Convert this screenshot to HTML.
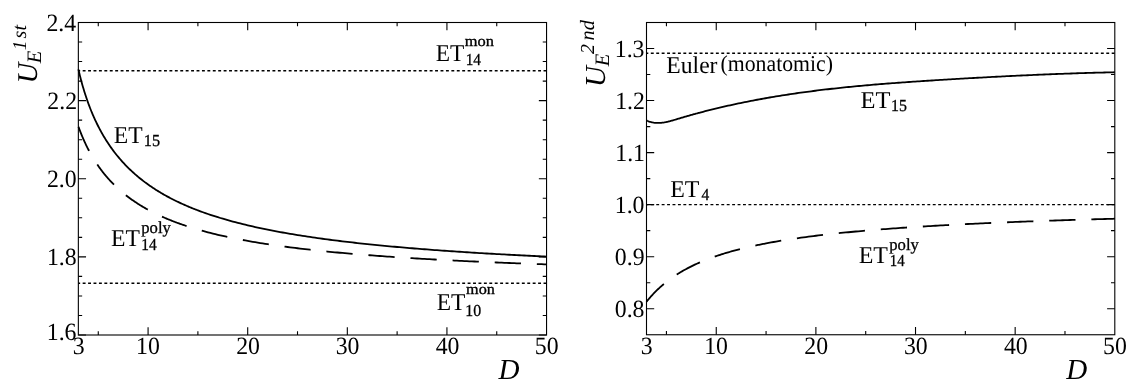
<!DOCTYPE html>
<html><head><meta charset="utf-8"><style>
html,body{margin:0;padding:0;background:#fff;}
svg{display:block;will-change:transform;}
text{font-family:"Liberation Serif",serif;fill:#000;font-kerning:none;text-rendering:geometricPrecision;}
</style></head><body>
<svg width="1135" height="389" viewBox="0 0 1135 389">
<rect width="1135" height="389" fill="#fff"/>
<path d="M148.08,335.00V327.30M148.08,22.50V30.20M247.70,335.00V327.30M247.70,22.50V30.20M347.32,335.00V327.30M347.32,22.50V30.20M446.93,335.00V327.30M446.93,22.50V30.20M98.27,335.00V331.20M98.27,22.50V26.30M197.89,335.00V331.20M197.89,22.50V26.30M297.51,335.00V331.20M297.51,22.50V26.30M397.12,335.00V331.20M397.12,22.50V26.30M496.74,335.00V331.20M496.74,22.50V26.30M78.35,22.50H86.05M546.55,22.50H538.85M78.35,100.62H86.05M546.55,100.62H538.85M78.35,178.75H86.05M546.55,178.75H538.85M78.35,256.88H86.05M546.55,256.88H538.85M78.35,335.00H86.05M546.55,335.00H538.85M78.35,42.03H82.15M546.55,42.03H542.75M78.35,61.56H82.15M546.55,61.56H542.75M78.35,81.09H82.15M546.55,81.09H542.75M78.35,120.16H82.15M546.55,120.16H542.75M78.35,139.69H82.15M546.55,139.69H542.75M78.35,159.22H82.15M546.55,159.22H542.75M78.35,198.28H82.15M546.55,198.28H542.75M78.35,217.81H82.15M546.55,217.81H542.75M78.35,237.34H82.15M546.55,237.34H542.75M78.35,276.41H82.15M546.55,276.41H542.75M78.35,295.94H82.15M546.55,295.94H542.75M78.35,315.47H82.15M546.55,315.47H542.75" stroke="#000" stroke-width="1.1" fill="none"/>
<rect x="78.35" y="22.5" width="468.20" height="312.50" stroke="#000" stroke-width="1.1" fill="none"/>
<path d="M716.25,334.75V327.05M716.25,22.50V30.20M815.89,334.75V327.05M815.89,22.50V30.20M915.52,334.75V327.05M915.52,22.50V30.20M1015.16,334.75V327.05M1015.16,22.50V30.20M666.43,334.75V330.95M666.43,22.50V26.30M766.07,334.75V330.95M766.07,22.50V26.30M865.70,334.75V330.95M865.70,22.50V26.30M965.34,334.75V330.95M965.34,22.50V26.30M1064.98,334.75V330.95M1064.98,22.50V26.30M646.50,48.52H654.20M1114.80,48.52H1107.10M646.50,100.56H654.20M1114.80,100.56H1107.10M646.50,152.60H654.20M1114.80,152.60H1107.10M646.50,204.65H654.20M1114.80,204.65H1107.10M646.50,256.69H654.20M1114.80,256.69H1107.10M646.50,308.73H654.20M1114.80,308.73H1107.10M646.50,74.54H650.30M1114.80,74.54H1111.00M646.50,126.58H650.30M1114.80,126.58H1111.00M646.50,178.62H650.30M1114.80,178.62H1111.00M646.50,230.67H650.30M1114.80,230.67H1111.00M646.50,282.71H650.30M1114.80,282.71H1111.00" stroke="#000" stroke-width="1.1" fill="none"/>
<rect x="646.5" y="22.5" width="468.30" height="312.25" stroke="#000" stroke-width="1.1" fill="none"/>
<path d="M78.35,70.70H546.55" stroke="#000" stroke-width="1.45" stroke-dasharray="2.9 2.522" stroke-dashoffset="1.1" fill="none"/>
<path d="M78.35,283.20H546.55" stroke="#000" stroke-width="1.45" stroke-dasharray="2.9 2.522" stroke-dashoffset="1.1" fill="none"/>
<path d="M646.50,53.30H1114.80" stroke="#000" stroke-width="1.45" stroke-dasharray="2.9 2.522" stroke-dashoffset="1.1" fill="none"/>
<path d="M646.50,204.60H1114.80" stroke="#000" stroke-width="1.45" stroke-dasharray="2.9 2.522" stroke-dashoffset="1.1" fill="none"/>
<path d="M78.40,69.38 L78.90,71.50 L79.40,73.57 L79.89,75.59 L80.39,77.55 L80.89,79.46 L81.39,81.33 L81.89,83.15 L82.38,84.93 L82.88,86.67 L83.38,88.37 L83.88,90.03 L84.38,91.65 L84.88,93.24 L85.37,94.79 L85.87,96.32 L86.37,97.81 L86.87,99.27 L87.37,100.70 L87.86,102.10 L88.36,103.48 L88.86,104.83 L89.36,106.15 L89.86,107.45 L90.35,108.73 L90.85,109.98 L91.35,111.22 L91.85,112.43 L92.35,113.62 L92.84,114.79 L93.34,115.94 L93.84,117.07 L94.34,118.18 L94.84,119.28 L95.33,120.35 L95.83,121.41 L96.33,122.46 L96.83,123.49 L97.33,124.50 L97.83,125.50 L98.32,126.48 L98.82,127.45 L99.32,128.40 L99.82,129.34 L100.32,130.27 L100.81,131.19 L101.31,132.09 L101.81,132.98 L102.31,133.86 L102.81,134.72 L103.30,135.58 L103.80,136.42 L104.30,137.26 L104.80,138.08 L105.30,138.89 L105.79,139.69 L106.29,140.48 L106.79,141.26 L107.29,142.03 L107.79,142.80 L108.29,143.55 L109.28,145.03 L110.28,146.47 L111.27,147.88 L112.27,149.26 L113.27,150.61 L114.26,151.93 L115.26,153.22 L116.25,154.49 L117.25,155.72 L118.25,156.93 L119.24,158.12 L120.24,159.28 L121.24,160.42 L122.23,161.54 L123.23,162.63 L124.22,163.71 L125.22,164.76 L126.22,165.79 L127.21,166.81 L128.21,167.80 L129.20,168.78 L130.20,169.74 L131.20,170.69 L132.19,171.61 L133.19,172.53 L134.19,173.42 L135.18,174.30 L136.18,175.17 L137.17,176.02 L138.17,176.86 L139.17,177.68 L140.16,178.49 L141.16,179.29 L142.15,180.07 L143.15,180.84 L144.15,181.60 L145.14,182.35 L146.14,183.09 L147.14,183.82 L148.13,184.53 L149.13,185.24 L150.12,185.93 L151.12,186.61 L152.12,187.29 L153.11,187.95 L154.11,188.61 L155.11,189.25 L156.10,189.89 L157.10,190.51 L158.09,191.13 L159.09,191.74 L160.09,192.34 L161.08,192.94 L162.08,193.52 L163.07,194.10 L164.07,194.67 L165.07,195.23 L166.06,195.79 L167.06,196.34 L168.06,196.88 L169.05,197.41 L170.05,197.94 L171.04,198.46 L172.04,198.97 L173.04,199.48 L174.03,199.98 L175.03,200.48 L176.02,200.97 L177.02,201.45 L178.02,201.93 L179.01,202.40 L180.01,202.87 L181.01,203.33 L182.00,203.78 L183.00,204.23 L183.99,204.68 L184.99,205.11 L185.99,205.55 L186.98,205.98 L187.98,206.40 L188.97,206.82 L189.97,207.24 L190.97,207.65 L191.96,208.05 L192.96,208.46 L193.96,208.85 L194.95,209.24 L195.95,209.63 L196.94,210.02 L197.94,210.40 L200.43,211.33 L202.92,212.24 L205.41,213.12 L207.90,213.99 L210.39,214.83 L212.88,215.65 L215.37,216.45 L217.86,217.23 L220.35,217.99 L222.84,218.73 L225.34,219.46 L227.83,220.17 L230.32,220.86 L232.81,221.54 L235.30,222.21 L237.79,222.86 L240.28,223.49 L242.77,224.11 L245.26,224.72 L247.75,225.31 L250.24,225.90 L252.73,226.47 L255.22,227.03 L257.71,227.57 L260.20,228.11 L262.69,228.64 L265.18,229.15 L267.67,229.66 L270.16,230.16 L272.65,230.64 L275.14,231.12 L277.63,231.59 L280.12,232.05 L282.61,232.50 L285.11,232.94 L287.60,233.38 L290.09,233.81 L292.58,234.23 L295.07,234.64 L297.56,235.05 L300.05,235.45 L302.54,235.84 L305.03,236.22 L307.52,236.60 L310.01,236.97 L312.50,237.34 L314.99,237.70 L317.48,238.06 L319.97,238.40 L322.46,238.75 L324.95,239.09 L327.44,239.42 L329.93,239.75 L332.42,240.07 L334.91,240.38 L337.40,240.70 L339.89,241.01 L342.39,241.31 L344.88,241.61 L347.37,241.90 L349.86,242.19 L352.35,242.48 L354.84,242.76 L357.33,243.04 L359.82,243.31 L362.31,243.58 L364.80,243.85 L367.29,244.11 L369.78,244.37 L372.27,244.62 L374.76,244.87 L377.25,245.12 L379.74,245.37 L382.23,245.61 L384.72,245.85 L387.21,246.08 L389.70,246.31 L392.19,246.54 L394.68,246.77 L397.17,246.99 L399.66,247.21 L402.16,247.43 L404.65,247.65 L407.14,247.86 L409.63,248.07 L412.12,248.27 L414.61,248.48 L417.10,248.68 L419.59,248.88 L422.08,249.08 L424.57,249.27 L427.06,249.46 L429.55,249.65 L432.04,249.84 L434.53,250.03 L437.02,250.21 L439.51,250.39 L442.00,250.57 L444.49,250.75 L446.98,250.92 L449.47,251.10 L451.96,251.27 L454.45,251.44 L456.94,251.60 L459.44,251.77 L461.93,251.93 L464.42,252.09 L466.91,252.25 L469.40,252.41 L471.89,252.57 L474.38,252.73 L476.87,252.88 L479.36,253.03 L481.85,253.18 L484.34,253.33 L486.83,253.48 L489.32,253.62 L491.81,253.77 L494.30,253.91 L496.79,254.05 L499.28,254.19 L501.77,254.33 L504.26,254.46 L506.75,254.60 L509.24,254.73 L511.73,254.87 L514.22,255.00 L516.71,255.13 L519.21,255.26 L521.70,255.38 L524.19,255.51 L526.68,255.64 L529.17,255.76 L531.66,255.88 L534.15,256.00 L536.64,256.12 L539.13,256.24 L541.62,256.36 L544.11,256.48 L546.60,256.59" stroke="#000" stroke-width="1.8" fill="none"/>
<path d="M78.40,126.46 L78.90,127.85 L79.40,129.21 L79.89,130.54 L80.39,131.84 L80.89,133.11 L81.39,134.35 L81.89,135.58 L82.38,136.77 L82.88,137.95 L83.38,139.10 L83.88,140.23 L84.38,141.34 L84.88,142.43 L85.37,143.49 L85.87,144.54 L86.37,145.58 L86.87,146.59 L87.37,147.59 L87.86,148.57 L88.36,149.53 L88.86,150.48 L89.36,151.41 L89.86,152.33 L90.35,153.23 L90.85,154.12 L91.35,155.00 L91.85,155.86 L92.35,156.71 L92.84,157.55 L93.34,158.37 L93.84,159.19 L94.34,159.99 L94.84,160.78 L95.33,161.56 L95.83,162.33 L96.33,163.09 L96.83,163.83 L97.33,164.57 L97.83,165.30 L98.32,166.02 L98.82,166.73 L99.32,167.42 L99.82,168.12 L100.32,168.80 L100.81,169.47 L101.31,170.14 L101.81,170.79 L102.31,171.44 L102.81,172.08 L103.30,172.71 L103.80,173.34 L104.30,173.96 L104.80,174.57 L105.30,175.17 L105.79,175.77 L106.29,176.36 L106.79,176.94 L107.29,177.52 L107.79,178.08 L108.29,178.65 L109.28,179.76 L110.28,180.84 L111.27,181.90 L112.27,182.94 L113.27,183.95 L114.26,184.95 L115.26,185.92 L116.25,186.87 L117.25,187.81 L118.25,188.73 L119.24,189.62 L120.24,190.51 L121.24,191.37 L122.23,192.22 L123.23,193.05 L124.22,193.87 L125.22,194.67 L126.22,195.46 L127.21,196.23 L128.21,196.99 L129.20,197.73 L130.20,198.47 L131.20,199.19 L132.19,199.90 L133.19,200.59 L134.19,201.28 L135.18,201.95 L136.18,202.61 L137.17,203.26 L138.17,203.90 L139.17,204.53 L140.16,205.15 L141.16,205.76 L142.15,206.36 L143.15,206.95 L144.15,207.53 L145.14,208.11 L146.14,208.67 L147.14,209.23 L148.13,209.77 L149.13,210.31 L150.12,210.84 L151.12,211.37 L152.12,211.88 L153.11,212.39 L154.11,212.89 L155.11,213.39 L156.10,213.87 L157.10,214.35 L158.09,214.83 L159.09,215.29 L160.09,215.76 L161.08,216.21 L162.08,216.66 L163.07,217.10 L164.07,217.54 L165.07,217.97 L166.06,218.39 L167.06,218.81 L168.06,219.23 L169.05,219.63 L170.05,220.04 L171.04,220.44 L172.04,220.83 L173.04,221.22 L174.03,221.60 L175.03,221.98 L176.02,222.35 L177.02,222.72 L178.02,223.09 L179.01,223.45 L180.01,223.80 L181.01,224.16 L182.00,224.50 L183.00,224.85 L183.99,225.19 L184.99,225.52 L185.99,225.85 L186.98,226.18 L187.98,226.51 L188.97,226.83 L189.97,227.14 L190.97,227.46 L191.96,227.77 L192.96,228.07 L193.96,228.38 L194.95,228.68 L195.95,228.97 L196.94,229.27 L197.94,229.56 L200.43,230.27 L202.92,230.96 L205.41,231.63 L207.90,232.29 L210.39,232.93 L212.88,233.56 L215.37,234.16 L217.86,234.76 L220.35,235.34 L222.84,235.90 L225.34,236.46 L227.83,237.00 L230.32,237.52 L232.81,238.04 L235.30,238.54 L237.79,239.03 L240.28,239.52 L242.77,239.99 L245.26,240.45 L247.75,240.90 L250.24,241.34 L252.73,241.77 L255.22,242.20 L257.71,242.61 L260.20,243.02 L262.69,243.42 L265.18,243.81 L267.67,244.19 L270.16,244.56 L272.65,244.93 L275.14,245.29 L277.63,245.65 L280.12,245.99 L282.61,246.34 L285.11,246.67 L287.60,247.00 L290.09,247.32 L292.58,247.64 L295.07,247.95 L297.56,248.26 L300.05,248.56 L302.54,248.85 L305.03,249.14 L307.52,249.43 L310.01,249.71 L312.50,249.98 L314.99,250.26 L317.48,250.52 L319.97,250.79 L322.46,251.04 L324.95,251.30 L327.44,251.55 L329.93,251.79 L332.42,252.04 L334.91,252.28 L337.40,252.51 L339.89,252.74 L342.39,252.97 L344.88,253.19 L347.37,253.42 L349.86,253.63 L352.35,253.85 L354.84,254.06 L357.33,254.27 L359.82,254.47 L362.31,254.67 L364.80,254.87 L367.29,255.07 L369.78,255.27 L372.27,255.46 L374.76,255.64 L377.25,255.83 L379.74,256.01 L382.23,256.20 L384.72,256.37 L387.21,256.55 L389.70,256.72 L392.19,256.90 L394.68,257.06 L397.17,257.23 L399.66,257.40 L402.16,257.56 L404.65,257.72 L407.14,257.88 L409.63,258.04 L412.12,258.19 L414.61,258.34 L417.10,258.49 L419.59,258.64 L422.08,258.79 L424.57,258.94 L427.06,259.08 L429.55,259.22 L432.04,259.36 L434.53,259.50 L437.02,259.64 L439.51,259.77 L442.00,259.91 L444.49,260.04 L446.98,260.17 L449.47,260.30 L451.96,260.43 L454.45,260.55 L456.94,260.68 L459.44,260.80 L461.93,260.92 L464.42,261.05 L466.91,261.16 L469.40,261.28 L471.89,261.40 L474.38,261.52 L476.87,261.63 L479.36,261.74 L481.85,261.86 L484.34,261.97 L486.83,262.08 L489.32,262.18 L491.81,262.29 L494.30,262.40 L496.79,262.50 L499.28,262.61 L501.77,262.71 L504.26,262.81 L506.75,262.91 L509.24,263.01 L511.73,263.11 L514.22,263.21 L516.71,263.31 L519.21,263.40 L521.70,263.50 L524.19,263.59 L526.68,263.68 L529.17,263.78 L531.66,263.87 L534.15,263.96 L536.64,264.05 L539.13,264.14 L541.62,264.22 L544.11,264.31 L546.60,264.40" stroke="#000" stroke-width="1.8" stroke-dasharray="26.3 15.87" stroke-dashoffset="41.84" fill="none"/>
<path d="M646.50,120.43 L647.18,120.75 L647.85,121.04 L648.53,121.30 L649.21,121.55 L649.89,121.77 L650.56,121.97 L651.24,122.15 L651.92,122.32 L652.59,122.46 L653.27,122.58 L653.95,122.69 L654.63,122.78 L655.30,122.85 L655.98,122.90 L656.66,122.94 L657.34,122.96 L658.01,122.97 L658.69,122.96 L659.37,122.94 L660.04,122.90 L660.72,122.86 L661.40,122.79 L662.08,122.72 L662.75,122.64 L663.43,122.54 L664.11,122.44 L664.78,122.32 L665.46,122.20 L666.14,122.06 L666.82,121.92 L667.49,121.77 L668.17,121.61 L668.85,121.45 L669.53,121.28 L670.20,121.10 L670.88,120.92 L671.56,120.74 L672.23,120.55 L672.91,120.35 L673.59,120.15 L674.27,119.96 L674.94,119.75 L675.62,119.55 L676.30,119.35 L676.97,119.14 L677.65,118.94 L678.33,118.73 L679.01,118.53 L679.68,118.33 L680.36,118.12 L681.04,117.92 L681.72,117.72 L682.39,117.52 L683.07,117.32 L683.75,117.12 L684.42,116.93 L685.10,116.73 L685.78,116.53 L686.46,116.34 L687.13,116.15 L687.81,115.95 L688.49,115.76 L689.16,115.57 L689.84,115.37 L690.52,115.18 L691.20,114.99 L691.87,114.81 L692.55,114.62 L693.23,114.43 L693.91,114.24 L694.58,114.06 L695.26,113.87 L695.94,113.69 L696.61,113.50 L697.29,113.32 L697.97,113.14 L698.65,112.95 L699.32,112.77 L700.00,112.59 L701.00,112.33 L703.08,111.78 L705.16,111.24 L707.24,110.71 L709.32,110.18 L711.40,109.66 L713.48,109.15 L715.56,108.64 L717.64,108.14 L719.71,107.64 L721.79,107.16 L723.87,106.67 L725.95,106.20 L728.03,105.73 L730.11,105.26 L732.19,104.80 L734.27,104.35 L736.35,103.91 L738.43,103.47 L740.51,103.03 L742.59,102.60 L744.67,102.18 L746.75,101.76 L748.83,101.35 L750.91,100.94 L752.98,100.54 L755.06,100.14 L757.14,99.75 L759.22,99.37 L761.30,98.99 L763.38,98.61 L765.46,98.24 L767.54,97.88 L769.62,97.51 L771.70,97.16 L773.78,96.81 L775.86,96.46 L777.94,96.12 L780.02,95.79 L782.10,95.45 L784.18,95.13 L786.26,94.81 L788.33,94.49 L790.41,94.17 L792.49,93.87 L794.57,93.56 L796.65,93.26 L798.73,92.96 L800.81,92.67 L802.89,92.39 L804.97,92.10 L807.05,91.82 L809.13,91.55 L811.21,91.28 L813.29,91.01 L815.37,90.74 L817.45,90.48 L819.53,90.23 L821.61,89.97 L823.68,89.73 L825.76,89.48 L827.84,89.24 L829.92,89.00 L832.00,88.76 L834.08,88.53 L836.16,88.30 L838.24,88.08 L840.32,87.86 L842.40,87.64 L844.48,87.42 L846.56,87.21 L848.64,87.00 L850.72,86.79 L852.80,86.59 L854.88,86.39 L856.95,86.19 L859.03,86.00 L861.11,85.80 L863.19,85.61 L865.27,85.43 L867.35,85.24 L869.43,85.06 L871.51,84.88 L873.59,84.70 L875.67,84.52 L877.75,84.35 L879.83,84.18 L881.91,84.01 L883.99,83.85 L886.07,83.68 L888.15,83.52 L890.23,83.36 L892.30,83.20 L894.38,83.04 L896.46,82.89 L898.54,82.73 L900.62,82.58 L902.70,82.43 L904.78,82.29 L906.86,82.14 L908.94,81.99 L911.02,81.85 L913.10,81.71 L915.18,81.57 L917.26,81.43 L919.34,81.29 L921.42,81.15 L923.50,81.01 L925.57,80.88 L927.65,80.74 L929.73,80.61 L931.81,80.48 L933.89,80.35 L935.97,80.22 L938.05,80.09 L940.13,79.96 L942.21,79.83 L944.29,79.70 L946.37,79.57 L948.45,79.45 L950.53,79.32 L952.61,79.20 L954.69,79.07 L956.77,78.95 L958.85,78.83 L960.92,78.70 L963.00,78.58 L965.08,78.46 L967.16,78.34 L969.24,78.22 L971.32,78.11 L973.40,77.99 L975.48,77.87 L977.56,77.75 L979.64,77.64 L981.72,77.53 L983.80,77.41 L985.88,77.30 L987.96,77.19 L990.04,77.08 L992.12,76.97 L994.19,76.86 L996.27,76.75 L998.35,76.64 L1000.43,76.53 L1002.51,76.43 L1004.59,76.32 L1006.67,76.22 L1008.75,76.11 L1010.83,76.01 L1012.91,75.91 L1014.99,75.81 L1017.07,75.71 L1019.15,75.61 L1021.23,75.52 L1023.31,75.42 L1025.39,75.32 L1027.47,75.23 L1029.54,75.13 L1031.62,75.04 L1033.70,74.95 L1035.78,74.86 L1037.86,74.77 L1039.94,74.68 L1042.02,74.59 L1044.10,74.51 L1046.18,74.42 L1048.26,74.34 L1050.34,74.25 L1052.42,74.17 L1054.50,74.09 L1056.58,74.01 L1058.66,73.93 L1060.74,73.85 L1062.82,73.78 L1064.89,73.70 L1066.97,73.63 L1069.05,73.55 L1071.13,73.48 L1073.21,73.41 L1075.29,73.34 L1077.37,73.27 L1079.45,73.20 L1081.53,73.14 L1083.61,73.07 L1085.69,73.01 L1087.77,72.94 L1089.85,72.88 L1091.93,72.82 L1094.01,72.76 L1096.09,72.70 L1098.16,72.65 L1100.24,72.59 L1102.32,72.54 L1104.40,72.48 L1106.48,72.43 L1108.56,72.38 L1110.64,72.33 L1112.72,72.29 L1114.80,72.24" stroke="#000" stroke-width="1.8" fill="none"/>
<path d="M646.50,301.74 L647.00,301.12 L647.50,300.50 L647.99,299.90 L648.49,299.30 L648.99,298.71 L649.49,298.13 L649.99,297.56 L650.49,296.99 L650.98,296.43 L651.48,295.88 L651.98,295.33 L652.48,294.79 L652.98,294.25 L653.48,293.73 L653.97,293.20 L654.47,292.69 L654.97,292.18 L655.47,291.68 L655.97,291.18 L656.47,290.69 L656.96,290.20 L657.46,289.72 L657.96,289.24 L658.46,288.77 L658.96,288.31 L659.46,287.85 L659.95,287.40 L660.45,286.95 L660.95,286.50 L661.45,286.06 L661.95,285.63 L662.45,285.20 L662.94,284.77 L663.44,284.35 L663.94,283.94 L664.44,283.52 L664.94,283.12 L665.44,282.71 L665.93,282.31 L666.43,281.92 L666.93,281.53 L667.43,281.14 L667.93,280.76 L668.43,280.38 L668.92,280.00 L669.42,279.63 L669.92,279.27 L670.42,278.90 L670.92,278.54 L671.41,278.18 L671.91,277.83 L672.41,277.48 L672.91,277.14 L673.41,276.79 L673.91,276.45 L674.40,276.12 L674.90,275.78 L675.40,275.45 L675.90,275.13 L676.40,274.80 L677.39,274.16 L678.39,273.54 L679.39,272.92 L680.38,272.32 L681.38,271.73 L682.38,271.14 L683.37,270.57 L684.37,270.01 L685.37,269.46 L686.36,268.92 L687.36,268.38 L688.36,267.86 L689.35,267.34 L690.35,266.84 L691.35,266.34 L692.34,265.85 L693.34,265.36 L694.34,264.89 L695.33,264.42 L696.33,263.96 L697.33,263.51 L698.32,263.07 L699.32,262.63 L700.32,262.20 L701.31,261.77 L702.31,261.35 L703.31,260.94 L704.30,260.53 L705.30,260.13 L706.30,259.74 L707.29,259.35 L708.29,258.97 L709.29,258.59 L710.28,258.22 L711.28,257.85 L712.28,257.49 L713.27,257.13 L714.27,256.78 L715.27,256.44 L716.26,256.09 L717.26,255.76 L718.25,255.42 L719.25,255.09 L720.25,254.77 L721.24,254.45 L722.24,254.13 L723.24,253.82 L724.23,253.51 L725.23,253.21 L726.23,252.91 L727.22,252.61 L728.22,252.32 L729.22,252.03 L730.21,251.75 L731.21,251.47 L732.21,251.19 L733.20,250.91 L734.20,250.64 L735.20,250.37 L736.19,250.11 L737.19,249.84 L738.19,249.59 L739.18,249.33 L740.18,249.08 L741.18,248.83 L742.17,248.58 L743.17,248.34 L744.17,248.09 L745.16,247.85 L746.16,247.62 L747.16,247.38 L748.15,247.15 L749.15,246.92 L750.15,246.70 L751.14,246.48 L752.14,246.25 L753.14,246.04 L754.13,245.82 L755.13,245.60 L756.13,245.39 L757.12,245.18 L758.12,244.98 L759.12,244.77 L760.11,244.57 L761.11,244.37 L762.11,244.17 L763.10,243.97 L764.10,243.77 L765.09,243.58 L766.09,243.39 L768.58,242.92 L771.07,242.46 L773.57,242.01 L776.06,241.58 L778.55,241.15 L781.04,240.73 L783.53,240.32 L786.02,239.93 L788.51,239.54 L791.01,239.16 L793.50,238.78 L795.99,238.42 L798.48,238.06 L800.97,237.71 L803.46,237.37 L805.96,237.04 L808.45,236.71 L810.94,236.39 L813.43,236.07 L815.92,235.76 L818.41,235.46 L820.90,235.16 L823.40,234.87 L825.89,234.58 L828.38,234.30 L830.87,234.03 L833.36,233.76 L835.85,233.49 L838.34,233.23 L840.84,232.97 L843.33,232.72 L845.82,232.47 L848.31,232.23 L850.80,231.99 L853.29,231.76 L855.79,231.52 L858.28,231.30 L860.77,231.07 L863.26,230.85 L865.75,230.64 L868.24,230.43 L870.73,230.22 L873.23,230.01 L875.72,229.81 L878.21,229.61 L880.70,229.41 L883.19,229.22 L885.68,229.03 L888.17,228.84 L890.67,228.65 L893.16,228.47 L895.65,228.29 L898.14,228.11 L900.63,227.94 L903.12,227.77 L905.61,227.60 L908.11,227.43 L910.60,227.27 L913.09,227.10 L915.58,226.94 L918.07,226.79 L920.56,226.63 L923.06,226.48 L925.55,226.32 L928.04,226.17 L930.53,226.03 L933.02,225.88 L935.51,225.74 L938.00,225.60 L940.50,225.46 L942.99,225.32 L945.48,225.18 L947.97,225.05 L950.46,224.91 L952.95,224.78 L955.44,224.65 L957.94,224.52 L960.43,224.40 L962.92,224.27 L965.41,224.15 L967.90,224.02 L970.39,223.90 L972.89,223.78 L975.38,223.67 L977.87,223.55 L980.36,223.43 L982.85,223.32 L985.34,223.21 L987.83,223.10 L990.33,222.99 L992.82,222.88 L995.31,222.77 L997.80,222.66 L1000.29,222.56 L1002.78,222.45 L1005.27,222.35 L1007.77,222.25 L1010.26,222.15 L1012.75,222.05 L1015.24,221.95 L1017.73,221.85 L1020.22,221.76 L1022.71,221.66 L1025.21,221.57 L1027.70,221.47 L1030.19,221.38 L1032.68,221.29 L1035.17,221.20 L1037.66,221.11 L1040.16,221.02 L1042.65,220.93 L1045.14,220.84 L1047.63,220.76 L1050.12,220.67 L1052.61,220.59 L1055.10,220.50 L1057.60,220.42 L1060.09,220.34 L1062.58,220.26 L1065.07,220.18 L1067.56,220.10 L1070.05,220.02 L1072.54,219.94 L1075.04,219.86 L1077.53,219.79 L1080.02,219.71 L1082.51,219.64 L1085.00,219.56 L1087.49,219.49 L1089.99,219.41 L1092.48,219.34 L1094.97,219.27 L1097.46,219.20 L1099.95,219.13 L1102.44,219.06 L1104.93,218.99 L1107.43,218.92 L1109.92,218.85 L1112.41,218.78 L1114.90,218.72" stroke="#000" stroke-width="1.8" stroke-dasharray="26.3 15.87" stroke-dashoffset="1.4" fill="none"/>
<text transform="translate(46.41,30.53) scale(0.9600,1)" font-size="24.8">2.4</text>
<text transform="translate(47.35,108.66) scale(0.9600,1)" font-size="24.8">2.2</text>
<text transform="translate(46.95,186.82) scale(0.9600,1)" font-size="24.8">2.0</text>
<text transform="translate(46.95,264.95) scale(0.9600,1)" font-size="24.8">1.8</text>
<text transform="translate(46.75,339.83) scale(0.9600,1)" font-size="24.8">1.6</text>
<text transform="translate(614.77,56.56) scale(0.9600,1)" font-size="24.8">1.3</text>
<text transform="translate(615.15,108.60) scale(0.9600,1)" font-size="24.8">1.2</text>
<text transform="translate(615.27,160.61) scale(0.9600,1)" font-size="24.8">1.1</text>
<text transform="translate(614.75,212.72) scale(0.9600,1)" font-size="24.8">1.0</text>
<text transform="translate(614.82,264.76) scale(0.9600,1)" font-size="24.8">0.9</text>
<text transform="translate(614.75,316.80) scale(0.9600,1)" font-size="24.8">0.8</text>
<text transform="translate(72.69,353.90) scale(0.9600,1)" font-size="24.8">3</text>
<text transform="translate(135.99,353.90) scale(0.9600,1)" font-size="24.8">10</text>
<text transform="translate(236.13,353.90) scale(0.9600,1)" font-size="24.8">20</text>
<text transform="translate(335.70,353.90) scale(0.9600,1)" font-size="24.8">30</text>
<text transform="translate(435.65,353.90) scale(0.9600,1)" font-size="24.8">40</text>
<text transform="translate(534.81,353.90) scale(0.9600,1)" font-size="24.8">50</text>
<text transform="translate(640.84,353.90) scale(0.9600,1)" font-size="24.8">3</text>
<text transform="translate(704.15,353.90) scale(0.9600,1)" font-size="24.8">10</text>
<text transform="translate(804.31,353.90) scale(0.9600,1)" font-size="24.8">20</text>
<text transform="translate(903.90,353.90) scale(0.9600,1)" font-size="24.8">30</text>
<text transform="translate(1003.88,353.90) scale(0.9600,1)" font-size="24.8">40</text>
<text transform="translate(1103.06,353.90) scale(0.9600,1)" font-size="24.8">50</text>
<text transform="translate(435.63,61.40) scale(0.9661,1)" font-size="24.2">ET</text>
<text stroke="#000" stroke-width="0.3" transform="translate(465.66,64.60) scale(0.9096,1)" font-size="16.8">14</text>
<text stroke="#000" stroke-width="0.35" transform="translate(464.66,45.60) scale(1.0803,1)" font-size="15.2">mon</text>
<text transform="translate(113.72,142.80) scale(0.9766,1)" font-size="24.2">ET</text>
<text stroke="#000" stroke-width="0.3" transform="translate(143.77,146.40) scale(0.9681,1)" font-size="16.8">15</text>
<text transform="translate(111.02,245.90) scale(0.9766,1)" font-size="24.2">ET</text>
<text stroke="#000" stroke-width="0.3" transform="translate(141.25,249.50) scale(0.9163,1)" font-size="16.8">14</text>
<text stroke="#000" stroke-width="0.3" transform="translate(141.23,233.30) scale(0.9922,1)" font-size="16.8">poly</text>
<text transform="translate(436.72,309.80) scale(0.9696,1)" font-size="24.2">ET</text>
<text stroke="#000" stroke-width="0.3" transform="translate(465.20,315.90) scale(0.9466,1)" font-size="16.8">10</text>
<text stroke="#000" stroke-width="0.35" transform="translate(466.06,293.70) scale(1.0652,1)" font-size="15.2">mon</text>
<text transform="translate(860.59,108.00) scale(1.0117,1)" font-size="24.2">ET</text>
<text stroke="#000" stroke-width="0.3" transform="translate(891.00,111.30) scale(0.9477,1)" font-size="16.8">15</text>
<text transform="translate(670.21,196.90) scale(0.9872,1)" font-size="24.2">ET</text>
<text stroke="#000" stroke-width="0.3" transform="translate(701.50,200.10) scale(0.9220,1)" font-size="16.8">4</text>
<text transform="translate(858.71,262.90) scale(0.9907,1)" font-size="24.2">ET</text>
<text stroke="#000" stroke-width="0.3" transform="translate(889.80,266.00) scale(0.8831,1)" font-size="16.8">14</text>
<text stroke="#000" stroke-width="0.3" transform="translate(889.23,250.30) scale(0.9922,1)" font-size="16.8">poly</text>
<text transform="translate(666.32,73.00) scale(0.9808,1)" font-size="24.1">Euler</text>
<text transform="translate(720.54,70.80) scale(0.9554,1)" font-size="22.8">(monatomic)</text>
<text x="498.53" y="378.60" font-size="29.1" font-style="italic">D</text>
<text x="1066.33" y="378.60" font-size="29.1" font-style="italic">D</text>
<text transform="translate(36.90,83.60) rotate(-90)" font-size="28.7" font-style="italic">U</text>
<text transform="translate(41.00,63.25) rotate(-90)" font-size="20.5" font-style="italic">E</text>
<text transform="translate(25.90,50.20) rotate(-90)" font-size="19.5" font-style="italic">1</text>
<text transform="translate(25.90,38.40) rotate(-90)" font-size="20.0" font-style="italic">st</text>
<text transform="translate(605.30,87.10) rotate(-90)" font-size="29.0" font-style="italic">U</text>
<text transform="translate(609.10,66.25) rotate(-90)" font-size="20.5" font-style="italic">E</text>
<text transform="translate(594.20,53.90) rotate(-90)" font-size="19.8" font-style="italic">2</text>
<text transform="translate(594.00,40.50) rotate(-90)" font-size="20.3" font-style="italic">nd</text>
</svg>
</body></html>
